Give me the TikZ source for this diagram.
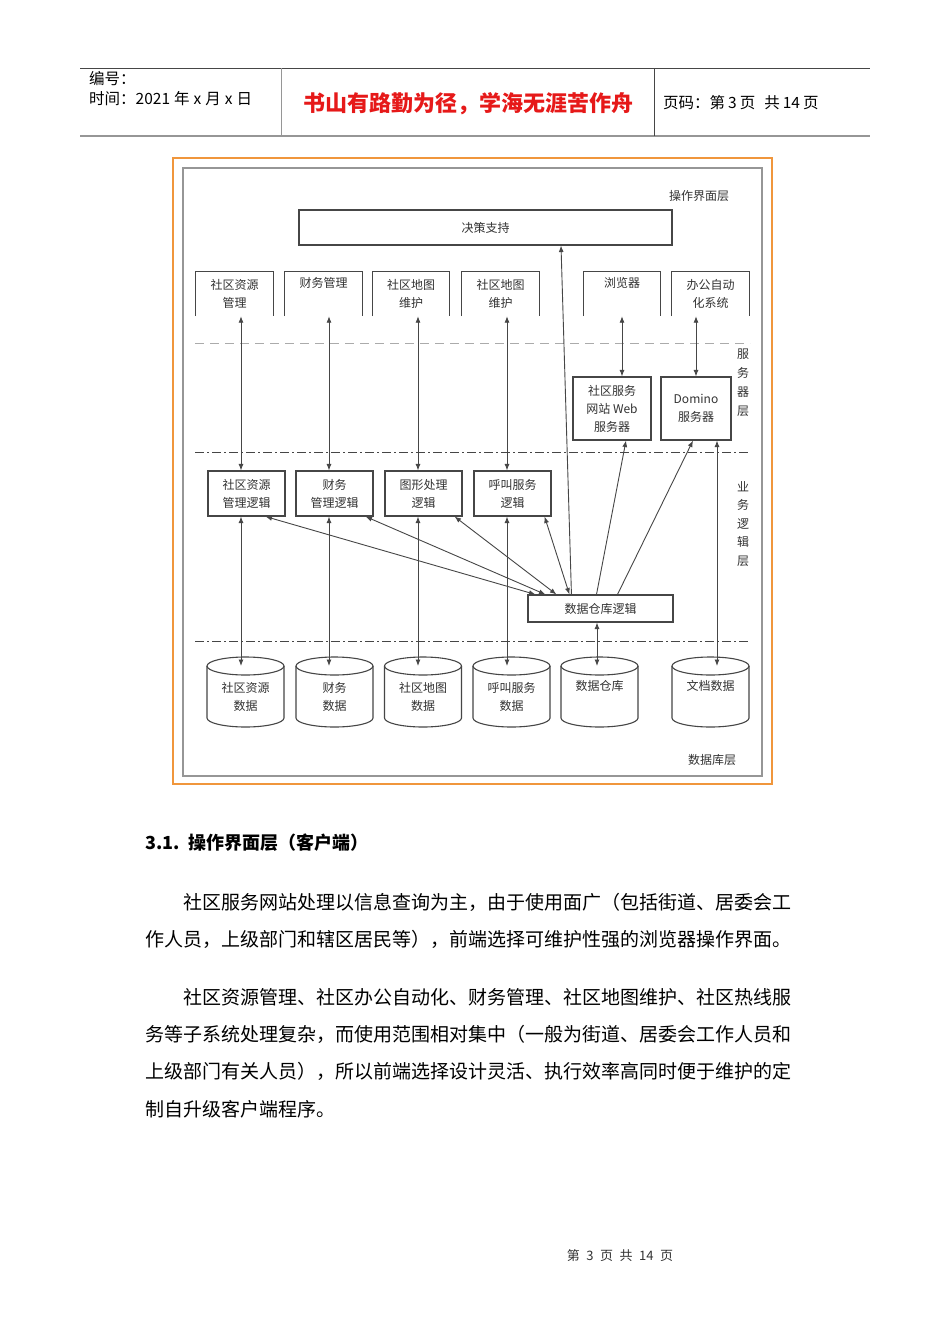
\documentclass[tikz,border=0pt]{standalone}
\usepackage{fontspec}
\setmainfont{Noto Sans CJK SC}
\usepackage{tikz}
\usetikzlibrary{arrows.meta, positioning, calc}
\definecolor{frameorange}{RGB}{240,150,60}
\definecolor{boxgray}{RGB}{70,70,70}
\definecolor{textgray}{RGB}{50,50,50}
\definecolor{rulegray}{RGB}{150,150,150}
\definecolor{slogred}{RGB}{230,25,25}
\newcommand{\dgfont}{\fontsize{12}{18}\selectfont}
\newcommand{\hdfont}{\fontsize{15.5}{15.5}\selectfont}
\newcommand{\bdfont}{\fontsize{19}{19}\selectfont}
%% cylinder drawn round a text node, top 40 above its centre, bottom 30 below
\newcommand{\dbcyl}[1]{%
  \draw[boxline] ($(#1.center)+(-38.5,-31)$) -- ($(#1.center)+(-38.5,21)$)
    arc[start angle=180, end angle=360, x radius=38.5pt, y radius=9pt]
    -- ($(#1.center)+(38.5,-31)$);
  \draw[boxline] ($(#1.center)+(0,-31)$) ellipse[x radius=38.5pt, y radius=9pt];
  \coordinate (#1in) at ($(#1.center)+(0,-31)$);}

\begin{document}
\begin{tikzpicture}[x=1pt, y=-1pt,
  boxline/.style={draw=boxgray, line width=1.1pt},
  box/.style={boxline, minimum width=77pt, minimum height=45pt, inner sep=0pt,
              align=center, font=\dgfont, text=textgray},
  topbox/.style={minimum width=77pt, minimum height=44pt, inner sep=0pt,
                 align=center, font=\dgfont, text=textgray},
  dbtext/.style={inner sep=0pt, align=center, font=\dgfont, text=textgray},
  layer/.style={font=\dgfont, text=textgray, align=center, inner sep=0pt},
  dbl/.style={{Latex[length=6.5pt,width=5pt]}-{Latex[length=6.5pt,width=5pt]},
              draw=boxgray, line width=0.9pt},
  sgl/.style={-{Latex[length=6.5pt,width=5pt]}, draw=boxgray, line width=0.9pt},
  body/.style={anchor=west, font=\bdfont, inner sep=0pt},
]
\useasboundingbox[fill=white] (0,0) rectangle (950,1344);

%% Header table
\draw[boxgray, line width=0.9pt] (80,68) -- (870,68);
\draw[rulegray, line width=2.2pt] (80,136) -- (870,136);
\draw[rulegray, line width=1pt] (281,68) -- (281,136);
\draw[boxgray, line width=0.9pt] (654,68) -- (654,136);
\node[anchor=west, font=\hdfont, inner sep=0pt] (num)  at (89,79) {编号：};
\node[anchor=west, font=\hdfont, inner sep=0pt] (date) at (89,99)
  {时间：2021\hspace{4pt}年\hspace{4pt}x\hspace{4pt}月\hspace{4pt}x\hspace{4pt}日};
\node[font=\fontsize{22}{22}\selectfont\bfseries, text=slogred] (slogan) at (468,104)
  {书山有路勤为径，学海无涯苦作舟};
\node[anchor=west, font=\hdfont, inner sep=0pt] (pageno) at (663,103)
  {页码：第\hspace{3pt}3\hspace{3pt}页\hspace{9pt}共\hspace{3pt}14\hspace{3pt}页};

%% Frames
\draw[frameorange, line width=1.4pt] (173,158) rectangle (772,784);
\draw[rulegray, line width=2pt] (183,168) rectangle (762,776);

%% Operation layer
\node[box, minimum width=373pt, minimum height=35pt] (dec) at (485.5,227.5) {决策支持};
\node[layer] (lyui) at (699,196) {操作界面层};

\node[topbox] (m1) at (234.5,294) {社区资源\\管理};
\node[topbox] (m2) at (323.5,294) {财务管理\\\strut};
\node[topbox] (m3) at (411,294)   {社区地图\\维护};
\node[topbox] (m4) at (500.5,294) {社区地图\\维护};
\node[topbox] (br) at (622,294)   {浏览器\\\strut};
\node[topbox] (oa) at (710.5,294) {办公自动\\化系统};
\foreach \n in {m1,m2,m3,m4,br,oa}
  \draw[boxline] (\n.south west) |- (\n.north east) -- (\n.south east);

%% Layer separators
\draw[rulegray!80, line width=0.8pt, dash pattern=on 9pt off 6pt] (195,343) -- (750,343);
\draw[boxgray, line width=0.8pt, dash pattern=on 9pt off 3pt on 2pt off 3pt] (195,452) -- (750,452);
\draw[boxgray, line width=0.8pt, dash pattern=on 9pt off 3pt on 2pt off 3pt] (195,641) -- (750,641);

%% Server layer
\node[box, minimum width=78pt, minimum height=63pt] (ws) at (612,408.5) {社区服务\\网站 Web\\服务器};
\node[box, minimum width=70pt, minimum height=63pt] (dom) at (696,408.5) {Domino\\服务器};
\node[layer, font=\fontsize{12}{19}\selectfont] (lysv) at (743,383) {服\\务\\器\\层};

%% Business logic layer
\node[box] (l1) at (246.5,493.5) {社区资源\\管理逻辑};
\node[box] (l2) at (334.5,493.5) {财务\\管理逻辑};
\node[box] (l3) at (423.5,493.5) {图形处理\\逻辑};
\node[box] (l4) at (512.5,493.5) {呼叫服务\\逻辑};
\node[box, minimum width=145pt, minimum height=27pt] (dw) at (600.5,608.5) {数据仓库逻辑};
\node[layer, font=\fontsize{12}{18.5}\selectfont] (lybz) at (743,524) {业\\务\\逻\\辑\\层};

%% Data layer
\node[dbtext] (d1) at (245.5,697) {社区资源\\数据};
\node[dbtext] (d2) at (334.5,697) {财务\\数据};
\node[dbtext] (d3) at (423,697)   {社区地图\\数据};
\node[dbtext] (d4) at (511.5,697) {呼叫服务\\数据};
\node[dbtext] (d5) at (599.5,697) {数据仓库\\\strut};
\node[dbtext] (d6) at (710.5,697) {文档数据\\\strut};
\foreach \n in {d1,d2,d3,d4,d5,d6} {\dbcyl{\n}}
\node[layer] (lydb) at (712,760) {数据库层};

%% Arrows
\coordinate (x1) at (241,0);
\coordinate (x2) at (329,0);
\coordinate (x3) at (418,0);
\coordinate (x4) at (507,0);
\coordinate (x5) at (597,0);
\coordinate (x6) at (717,0);
\draw[dbl] (m1.south -| x1) -- (l1.north -| x1);
\draw[dbl] (m2.south -| x2) -- (l2.north -| x2);
\draw[dbl] (m3.south -| x3) -- (l3.north -| x3);
\draw[dbl] (m4.south -| x4) -- (l4.north -| x4);
\draw[dbl] (l1.south -| x1) -- (d1in -| x1);
\draw[dbl] (l2.south -| x2) -- (d2in -| x2);
\draw[dbl] (l3.south -| x3) -- (d3in -| x3);
\draw[dbl] (l4.south -| x4) -- (d4in -| x4);
\draw[dbl] (dw.south -| x5) -- (d5in -| x5);
\draw[dbl] (dom.south -| x6) -- (d6in -| x6);
\draw[dbl] (br.south) -- (ws.north -| br.south);
\draw[dbl] (oa.south -| dom.north) -- (dom.north);

\draw[dbl] ($(l1.south east)+(-20,0)$) -- ($(dw.north west)+(8,0)$);
\draw[dbl] ($(l2.south east)+(-8,0)$)  -- ($(dw.north west)+(18,0)$);
\draw[dbl] ($(l3.south east)+(-8,0)$)  -- ($(dw.north west)+(29,0)$);
\draw[dbl] ($(l4.south east)+(-7,0)$)  -- ($(dw.north west)+(42,0)$);

\draw[sgl] ($(dw.north west)+(44,0)$) -- ($(dec.south)+(75.5,0)$);
\draw[sgl] ($(dw.north)+(-4,0)$) -- ($(ws.south)+(14,0)$);
\draw[sgl] ($(dw.north)+(17,0)$) -- ($(dom.south)+(-3,0)$);

%% Section text
\node[anchor=west, font=\fontsize{18}{18}\selectfont\bfseries, inner sep=0pt] (sec) at (145,843)
  {3.1.\enspace 操作界面层（客户端）};
\node[body] (p1a) at (183,902) {社区服务网站处理以信息查询为主，由于使用面广（包括街道、居委会工};
\node[body] (p1b) at (145,939) {作人员，上级部门和辖区居民等），前端选择可维护性强的浏览器操作界面。};
\node[body] (p2a) at (183,997) {社区资源管理、社区办公自动化、财务管理、社区地图维护、社区热线服};
\node[body] (p2b) at (145,1034) {务等子系统处理复杂，而使用范围相对集中（一般为街道、居委会工作人员和};
\node[body] (p2c) at (145,1071) {上级部门有关人员），所以前端选择设计灵活、执行效率高同时便于维护的定};
\node[body] (p2d) at (145,1109) {制自升级客户端程序。};

%% Footer
\node[font=\fontsize{13}{13}\selectfont, text=textgray] (foot) at (620,1256)
  {第\enspace 3\enspace 页\enspace 共\enspace 14\enspace 页};
\end{tikzpicture}
\end{document}
